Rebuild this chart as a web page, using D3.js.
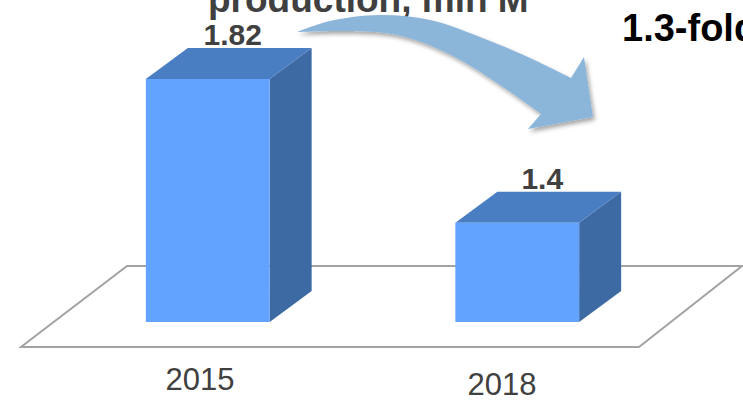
<!DOCTYPE html>
<html>
<head>
<meta charset="utf-8">
<title>production</title>
<script src="https://d3js.org/d3.v7.min.js"></script>
<style>
    body { margin: 0; background: #ffffff; }
    text { font-family: "Liberation Sans", Arial, sans-serif; }
</style>
</head>
<body>
<div class="chart-wrapper"></div>
<script>
    // data
    var years = ['2015', '2018'];
    var values = [1.82, 1.4];
    var valueLabels = ['1.82', '1.4'];
    var titleText = 'production, mln M';
    var noteText = '1.3-fold';
    var yMin = 1.11;   // value axis does not start at zero

    var width = 743, height = 404;
    var depthX = 42, depthY = -31;

    var svg = d3.select('.chart-wrapper')
        .append('svg')
        .attr('width', width).attr('height', height);

    var defs = svg.append('defs');
    var shadow = defs.append('filter').attr('id', 'shadow')
        .attr('x', '-10%').attr('y', '-10%').attr('width', '130%').attr('height', '140%');
    shadow.append('feDropShadow')
        .attr('dx', 2).attr('dy', 3).attr('stdDeviation', 2)
        .attr('flood-color', '#000').attr('flood-opacity', 0.35);

    var x = d3.scaleBand().domain(years).range([53, 672]).paddingInner(0.6).paddingOuter(0.3);
    var y = d3.scaleLinear().domain([yMin, d3.max(values)]).range([322, 79]);
    var bw = x.bandwidth();
    // category labels sit a bit left of the bars (perspective of the floor)
    var xLabel = d3.scalePoint().domain(years).range([200, 502]);

    // floor
    var floor = [[21, 347], [639, 347], [742, 266], [127, 266]];
    svg.append('polygon')
        .attr('points', floor.map(function (p) { return p.join(','); }).join(' '))
        .attr('fill', '#fff')
        .attr('stroke', '#a3a3a3')
        .attr('stroke-width', 2);

    // bars
    var bars = svg.append('g').attr('class', 'bars')
        .selectAll('g')
        .data(years)
        .enter()
        .append('g');

    function pts(arr) { return arr.map(function (p) { return p.join(','); }).join(' '); }

    bars.append('polygon')
        .attr('fill', '#3d6aa3')
        .attr('points', function (d, i) {
            var x1 = x(d) + bw, yt = y(values[i]), yb = y(yMin);
            return pts([[x1, yt], [x1 + depthX, yt + depthY], [x1 + depthX, yb + depthY], [x1, yb]]);
        });

    bars.append('polygon')
        .attr('fill', '#4a7ec2')
        .attr('points', function (d, i) {
            var x0 = x(d), x1 = x(d) + bw, yt = y(values[i]);
            return pts([[x0, yt], [x0 + depthX, yt + depthY], [x1 + depthX, yt + depthY], [x1, yt]]);
        });

    bars.append('rect')
        .attr('fill', '#61a3ff')
        .attr('x', function (d) { return x(d); })
        .attr('y', function (d, i) { return y(values[i]); })
        .attr('width', bw)
        .attr('height', function (d, i) { return y(yMin) - y(values[i]); });

    // value labels
    bars.append('text')
        .attr('x', function (d) { return x(d) + bw / 2 + depthX / 2 + 4; })
        .attr('y', function (d, i) { return y(values[i]) + depthY - 3; })
        .attr('text-anchor', 'middle')
        .attr('font-size', 30)
        .attr('font-weight', 'bold')
        .attr('fill', '#404040')
        .text(function (d, i) { return valueLabels[i]; });

    // category labels
    svg.append('g').selectAll('text')
        .data(years)
        .enter()
        .append('text')
        .attr('x', function (d) { return xLabel(d); })
        .attr('y', function (d, i) { return 390 + i * 5; })
        .attr('text-anchor', 'middle')
        .attr('font-size', 31)
        .attr('fill', '#404040')
        .text(function (d) { return d; });

    // title (cut off at top)
    svg.append('text')
        .attr('x', 208).attr('y', 12)
        .attr('font-size', 37)
        .attr('font-weight', 'bold')
        .attr('fill', '#404040')
        .text(titleText);

    // curved arrow
    var upper = [[297, 32], [330, 21], [380, 15], [430, 20], [480, 37], [530, 58], [571, 78]];
    var head = [[584, 57], [593, 117], [528, 129], [541, 114]];
    var lower = [[541, 114], [497, 83], [447, 53], [397, 35], [347, 31], [297, 32]];
    var line = d3.line().curve(d3.curveCatmullRom);
    var arrowPath = line(upper)
        + head.map(function (p) { return 'L' + p.join(','); }).join('')
        + line(lower).replace(/^M/, 'L') + 'Z';
    svg.append('path')
        .attr('d', arrowPath)
        .attr('fill', '#8cb5da')
        .attr('filter', 'url(#shadow)');

    // note
    svg.append('text')
        .attr('x', 622).attr('y', 41)
        .attr('font-size', 38)
        .attr('font-weight', 'bold')
        .attr('fill', '#000')
        .text(noteText);
</script>
</body>
</html>
